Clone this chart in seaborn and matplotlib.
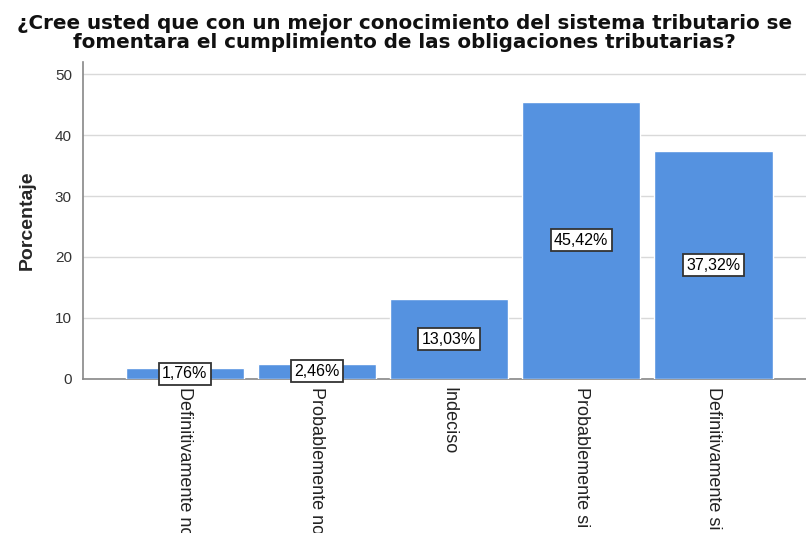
import matplotlib
matplotlib.use("Agg")
import matplotlib.pyplot as plt
import seaborn as sns
import pandas as pd

categories = ["Definitivamente no", "Probablemente no", "Indeciso",
              "Probablemente si", "Definitivamente si"]
percentages = [1.76, 2.46, 13.03, 45.42, 37.32]
value_labels = ["1,76%", "2,46%", "13,03%", "45,42%", "37,32%"]
y_ticks = [0, 10, 20, 30, 40, 50]
title_lines = ["¿Cree usted que con un mejor conocimiento del sistema tributario se",
               "fomentara el cumplimiento de las obligaciones tributarias?"]

sns.set_theme(style="white")
plt.rcParams["font.family"] = ["Liberation Sans", "DejaVu Sans"]

df = pd.DataFrame({"Respuesta": categories, "Porcentaje": percentages})

fig = plt.figure(figsize=(8.06, 5.33), dpi=100)
ax = fig.add_axes([0.103, 0.289, 0.897, 0.595])

sns.barplot(data=df, x="Respuesta", y="Porcentaje", color="#5592E0",
            saturation=1, width=0.894, ax=ax, zorder=3)

ax.set_ylim(0, 52)
ax.set_xlim(-0.77, 4.7)
ax.set_yticks(y_ticks)
ax.set_yticklabels([str(t) for t in y_ticks], fontsize=11, color="#333333")
ax.yaxis.grid(True, color="#d9d9d9", linewidth=1, zorder=0)
ax.set_axisbelow(True)
ax.tick_params(axis="y", length=0, pad=8)
ax.tick_params(axis="x", length=0, pad=6)
ax.set_xticks(range(len(categories)))
ax.set_xticklabels(categories, rotation=270, fontsize=13, va="top",
                   ha="center", color="#222222")
ax.set_xlabel("")
ax.set_ylabel("Porcentaje", fontsize=14, fontweight="bold", labelpad=14)

for s in ["top", "right"]:
    ax.spines[s].set_visible(False)
for s in ["left", "bottom"]:
    ax.spines[s].set_color("#888888")
    ax.spines[s].set_linewidth(1.2)

for i, (v, lab) in enumerate(zip(percentages, value_labels)):
    ax.text(i, v / 2, lab, ha="center", va="center", fontsize=11.5,
            color="black", zorder=5,
            bbox=dict(boxstyle="square,pad=0.22", facecolor="white",
                      edgecolor="#333333", linewidth=1.3))

# two-line title, each line placed on its own baseline
for line, y in zip(title_lines, [0.9455, 0.9099]):
    fig.text(0.502, y, line, ha="center", va="baseline", fontsize=14.3,
             fontweight="bold", family=["DejaVu Sans"], color="#111111")

fig.savefig("out.png", dpi=100)
